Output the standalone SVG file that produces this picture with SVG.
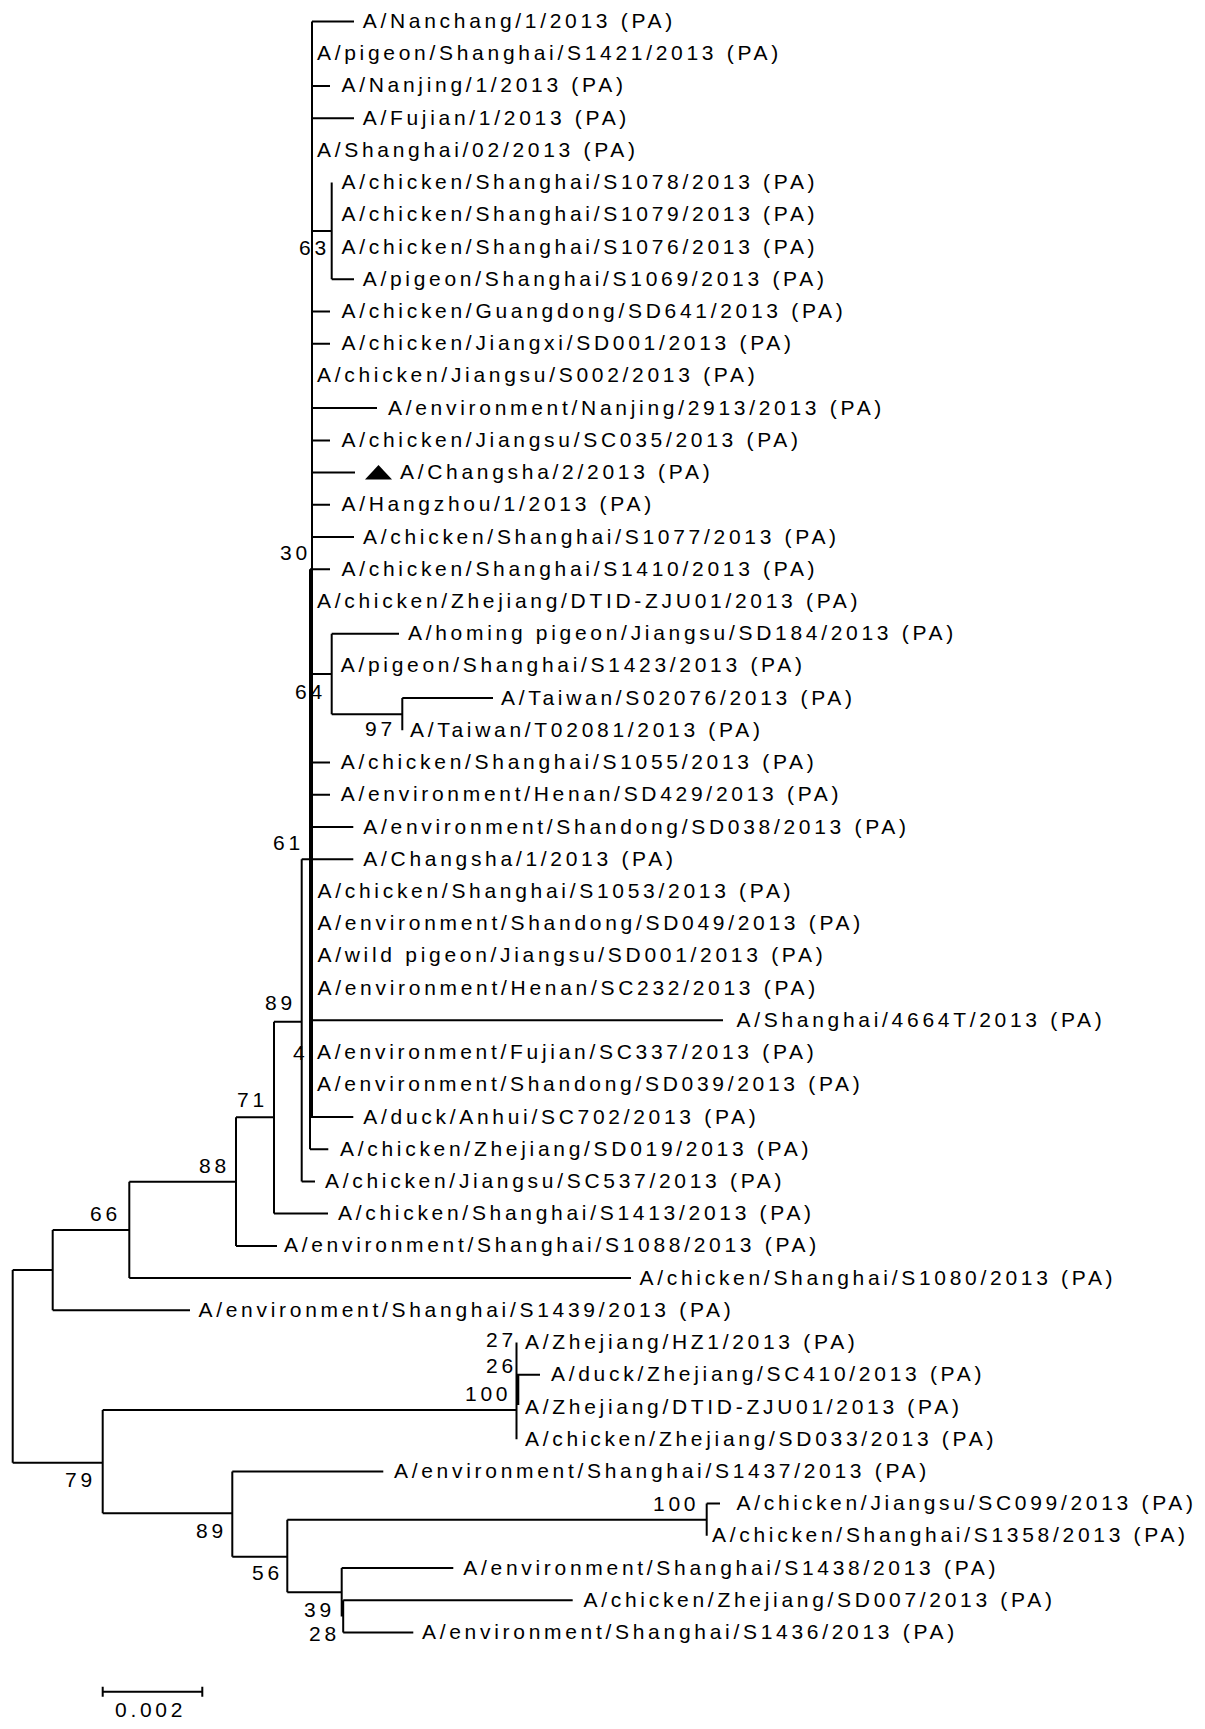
<svg xmlns="http://www.w3.org/2000/svg" width="1205" height="1729" viewBox="0 0 1205 1729">
<style>
.l{stroke:#000;stroke-width:2;fill:none}
.t{font-family:"Liberation Sans",Arial,sans-serif;font-size:21px;letter-spacing:3.7px;fill:#000}
</style>
<rect width="1205" height="1729" fill="#fff"/>
<g id="connectors" class="l">
<path d="M12.7 1270V1462.7M12.7 1270H52.7M12.7 1462.7H102.7"/>
<path d="M52.7 1230V1310.3M52.7 1230H129.3M52.7 1310.3H190"/>
<path d="M129.3 1181.7V1278.1M129.3 1181.7H236M129.3 1278.1H631"/>
<path d="M236 1117.3V1245.9M236 1117.3H274M236 1245.9H277"/>
<path d="M274 1021.7V1213.6M274 1021.7H301.7M274 1213.6H328"/>
<path d="M301.7 859.2V1181.4M301.7 859.2H310M301.7 1181.4H315"/>
<path d="M310 569.2V1149.2M310 1149.2H328.3M310 859.2H353.3M310 1020.3H723M310 1117H353.3M310 569.2H330"/>
<path d="M312 21.5V1117"/>
<path d="M312 21.5H354M312 85.9H330M312 118.2H354M312 231H331.7M312 311.5H330M312 343.7H330M312 408.1H377M312 440.4H330M312 472.6H355M312 504.8H330M312 537H354M312 674H331.7M312 762.6H330M312 794.8H330M312 827H353.3"/>
<path d="M331.7 182.6V279.3M331.7 279.3H354"/>
<path d="M331.7 633.7V714.2M331.7 633.7H399M331.7 714.2H402.3"/>
<path d="M402.3 698.1V730.3M402.3 698.1H493"/>
<path d="M102.7 1410V1513.3M102.7 1410H516.5M102.7 1513.3H232.3"/>
<path d="M516.5 1342.5V1439.2M518.3 1375V1405M516.5 1374.7H540"/>
<path d="M232.3 1471.4V1556.7M232.3 1471.4H383.3M232.3 1556.7H287.3"/>
<path d="M287.3 1519.7V1592.3M287.3 1519.7H706.7M287.3 1592.3H341.7"/>
<path d="M706.7 1503.6V1535.8M706.7 1503.6H720"/>
<path d="M341.7 1568.1V1616.4M343.2 1600.3V1632.5M341.7 1568.1H453.3M343.2 1600.3H572.7M343.2 1632.5H413.3"/>
</g>
<g id="bootstrap" class="t">
<text x="299" y="255">63</text>
<text x="280" y="560">30</text>
<text x="295" y="699">64</text>
<text x="365" y="736">97</text>
<text x="273" y="850">61</text>
<text x="265" y="1010">89</text>
<text x="293" y="1060">4</text>
<text x="237" y="1107">71</text>
<text x="199" y="1172.7">88</text>
<text x="90" y="1221">66</text>
<text x="65" y="1487">79</text>
<text x="486" y="1347">27</text>
<text x="486" y="1373">26</text>
<text x="465" y="1401">100</text>
<text x="196" y="1538">89</text>
<text x="252" y="1580">56</text>
<text x="304" y="1617">39</text>
<text x="309" y="1641">28</text>
<text x="653" y="1511">100</text>
</g>
<g class="t">
<g id="leaf1"><text x="362.7" y="28">A/Nanchang/1/2013 (PA)</text></g>
<g id="leaf2"><text x="317" y="60.2">A/pigeon/Shanghai/S1421/2013 (PA)</text></g>
<g id="leaf3"><text x="341.5" y="92.4">A/Nanjing/1/2013 (PA)</text></g>
<g id="leaf4"><text x="362.7" y="124.7">A/Fujian/1/2013 (PA)</text></g>
<g id="leaf5"><text x="317" y="156.9">A/Shanghai/02/2013 (PA)</text></g>
<g id="leaf6"><text x="341.5" y="189.1">A/chicken/Shanghai/S1078/2013 (PA)</text></g>
<g id="leaf7"><text x="341.5" y="221.3">A/chicken/Shanghai/S1079/2013 (PA)</text></g>
<g id="leaf8"><text x="341.5" y="253.5">A/chicken/Shanghai/S1076/2013 (PA)</text></g>
<g id="leaf9"><text x="362.7" y="285.8">A/pigeon/Shanghai/S1069/2013 (PA)</text></g>
<g id="leaf10"><text x="341.5" y="318">A/chicken/Guangdong/SD641/2013 (PA)</text></g>
<g id="leaf11"><text x="341.5" y="350.2">A/chicken/Jiangxi/SD001/2013 (PA)</text></g>
<g id="leaf12"><text x="317" y="382.4">A/chicken/Jiangsu/S002/2013 (PA)</text></g>
<g id="leaf13"><text x="388" y="414.6">A/environment/Nanjing/2913/2013 (PA)</text></g>
<g id="leaf14"><text x="341.5" y="446.9">A/chicken/Jiangsu/SC035/2013 (PA)</text></g>
<g id="leaf15"><polygon points="365,479.5 392,479.5 378.5,465" fill="#000"/><text x="400" y="479.1">A/Changsha/2/2013 (PA)</text></g>
<g id="leaf16"><text x="341.5" y="511.3">A/Hangzhou/1/2013 (PA)</text></g>
<g id="leaf17"><text x="363" y="543.5">A/chicken/Shanghai/S1077/2013 (PA)</text></g>
<g id="leaf18"><text x="341.5" y="575.7">A/chicken/Shanghai/S1410/2013 (PA)</text></g>
<g id="leaf19"><text x="317" y="608">A/chicken/Zhejiang/DTID-ZJU01/2013 (PA)</text></g>
<g id="leaf20"><text x="408" y="640.2">A/homing pigeon/Jiangsu/SD184/2013 (PA)</text></g>
<g id="leaf21"><text x="340.7" y="672.4">A/pigeon/Shanghai/S1423/2013 (PA)</text></g>
<g id="leaf22"><text x="501" y="704.6">A/Taiwan/S02076/2013 (PA)</text></g>
<g id="leaf23"><text x="410" y="736.8">A/Taiwan/T02081/2013 (PA)</text></g>
<g id="leaf24"><text x="340.7" y="769.1">A/chicken/Shanghai/S1055/2013 (PA)</text></g>
<g id="leaf25"><text x="340.7" y="801.3">A/environment/Henan/SD429/2013 (PA)</text></g>
<g id="leaf26"><text x="363.3" y="833.5">A/environment/Shandong/SD038/2013 (PA)</text></g>
<g id="leaf27"><text x="363.3" y="865.7">A/Changsha/1/2013 (PA)</text></g>
<g id="leaf28"><text x="317.5" y="897.9">A/chicken/Shanghai/S1053/2013 (PA)</text></g>
<g id="leaf29"><text x="317.5" y="930.2">A/environment/Shandong/SD049/2013 (PA)</text></g>
<g id="leaf30"><text x="317.5" y="962.4">A/wild pigeon/Jiangsu/SD001/2013 (PA)</text></g>
<g id="leaf31"><text x="317.5" y="994.6">A/environment/Henan/SC232/2013 (PA)</text></g>
<g id="leaf32"><text x="736.5" y="1026.8">A/Shanghai/4664T/2013 (PA)</text></g>
<g id="leaf33"><text x="317" y="1059">A/environment/Fujian/SC337/2013 (PA)</text></g>
<g id="leaf34"><text x="317" y="1091.3">A/environment/Shandong/SD039/2013 (PA)</text></g>
<g id="leaf35"><text x="363.3" y="1123.5">A/duck/Anhui/SC702/2013 (PA)</text></g>
<g id="leaf36"><text x="340" y="1155.7">A/chicken/Zhejiang/SD019/2013 (PA)</text></g>
<g id="leaf37"><text x="325" y="1187.9">A/chicken/Jiangsu/SC537/2013 (PA)</text></g>
<g id="leaf38"><text x="338" y="1220.1">A/chicken/Shanghai/S1413/2013 (PA)</text></g>
<g id="leaf39"><text x="284" y="1252.4">A/environment/Shanghai/S1088/2013 (PA)</text></g>
<g id="leaf40"><text x="639.5" y="1284.6">A/chicken/Shanghai/S1080/2013 (PA)</text></g>
<g id="leaf41"><text x="198.5" y="1316.8">A/environment/Shanghai/S1439/2013 (PA)</text></g>
<g id="leaf42"><text x="525" y="1349">A/Zhejiang/HZ1/2013 (PA)</text></g>
<g id="leaf43"><text x="551" y="1381.2">A/duck/Zhejiang/SC410/2013 (PA)</text></g>
<g id="leaf44"><text x="525" y="1413.5">A/Zhejiang/DTID-ZJU01/2013 (PA)</text></g>
<g id="leaf45"><text x="525" y="1445.7">A/chicken/Zhejiang/SD033/2013 (PA)</text></g>
<g id="leaf46"><text x="394" y="1477.9">A/environment/Shanghai/S1437/2013 (PA)</text></g>
<g id="leaf47"><text x="736.5" y="1510.1">A/chicken/Jiangsu/SC099/2013 (PA)</text></g>
<g id="leaf48"><text x="712" y="1542.3">A/chicken/Shanghai/S1358/2013 (PA)</text></g>
<g id="leaf49"><text x="463.3" y="1574.6">A/environment/Shanghai/S1438/2013 (PA)</text></g>
<g id="leaf50"><text x="583.5" y="1606.8">A/chicken/Zhejiang/SD007/2013 (PA)</text></g>
<g id="leaf51"><text x="422" y="1639">A/environment/Shanghai/S1436/2013 (PA)</text></g>
</g>
<g id="scale-bar">
<path class="l" d="M102.7 1691.7H202.3M102.7 1686.7V1696.7M202.3 1686.7V1696.7"/>
<text class="t" x="115" y="1717">0.002</text>
</g>
</svg>
